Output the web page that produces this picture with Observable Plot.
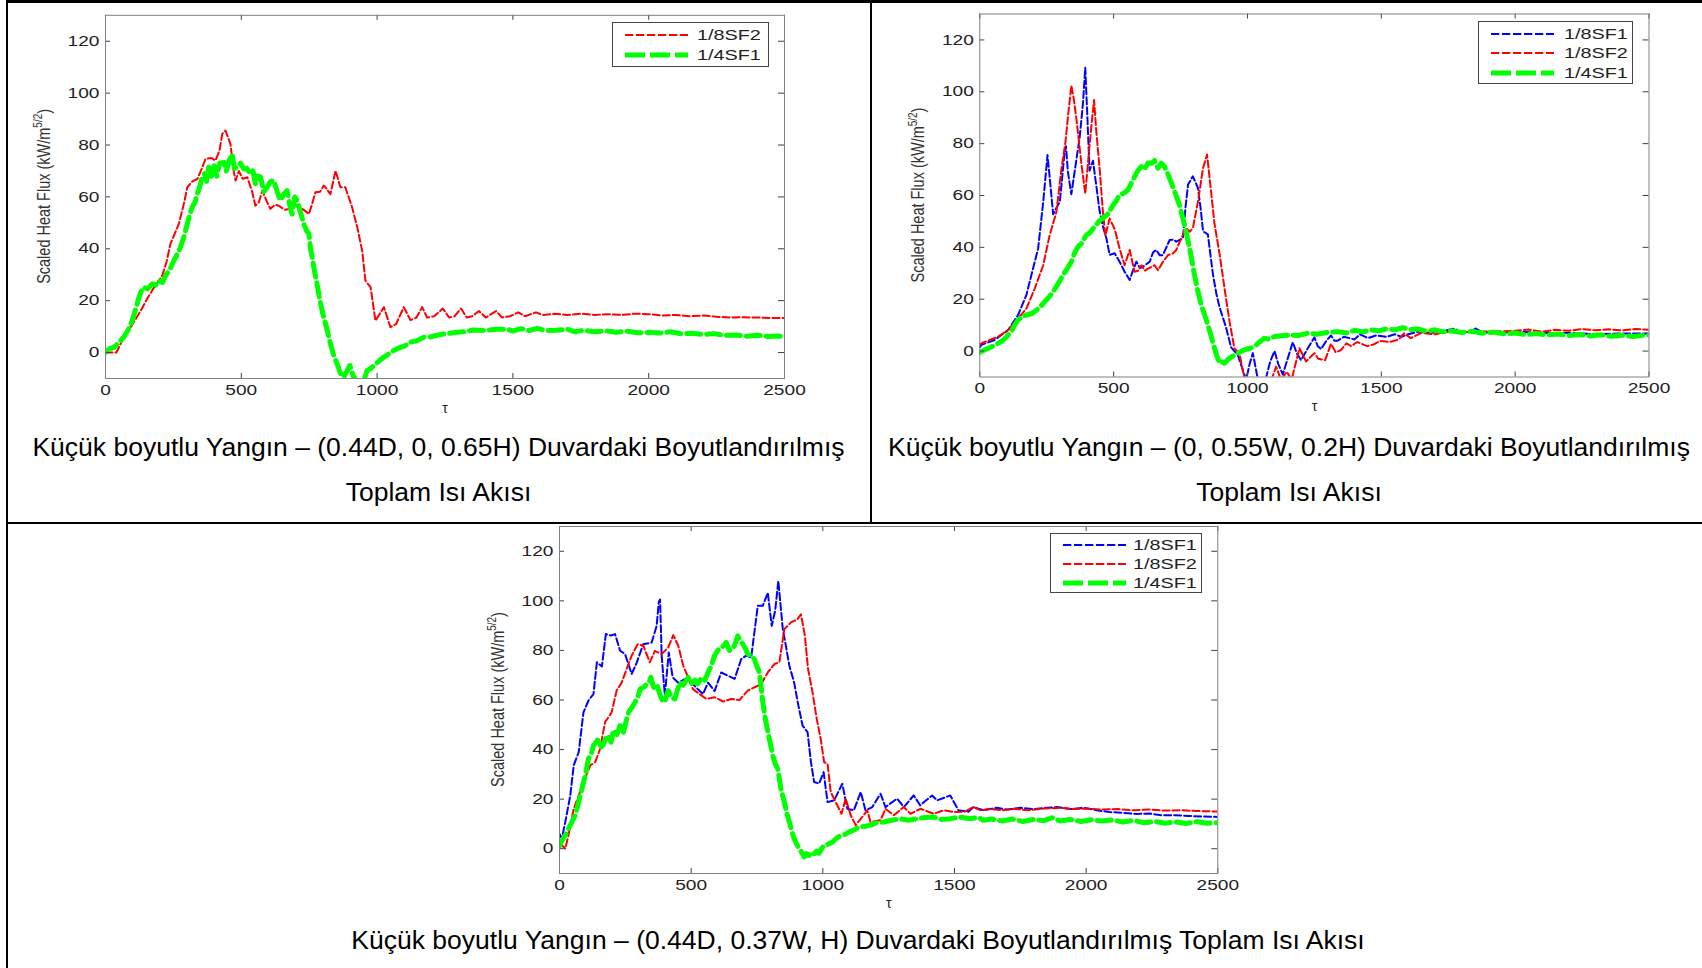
<!DOCTYPE html>
<html>
<head>
<meta charset="utf-8">
<script src="https://cdn.jsdelivr.net/npm/d3@7"></script>
<script src="https://cdn.jsdelivr.net/npm/@observablehq/plot@0.6"></script>
<style>
  html, body { margin: 0; padding: 0; background: #fff; }
  body { width: 1702px; height: 968px; overflow: hidden; position: relative;
         font-family: "Liberation Sans", Arial, Helvetica, sans-serif; }
  .rule { position: absolute; background: #000; }
  .caption { position: absolute; font-size: 26.5px; line-height: 45px; color: #000;
             white-space: nowrap; text-align: center; }
  .legend { position: absolute; box-sizing: border-box; border: 1px solid #444; background: #fff; }
  .legend span { position: absolute; font-size: 15px; line-height: 18px; color: #222;
                 transform: scaleX(1.32); transform-origin: left center; white-space: nowrap; }
  .legend svg { position: absolute; overflow: visible; }
</style>
</head>
<body>
<script>
// ---------- shared axis values ----------
const xTicks = [0, 500, 1000, 1500, 2000, 2500];
const yTicks = [0, 20, 40, 60, 80, 100, 120];

// ---------- series names (legend order) ----------
const seriesNames = ["1/8SF1", "1/8SF2", "1/4SF1"];

// ---------- panel 1: (0.44D, 0, 0.65H) ----------
const p1SF2 = [[0,0],[40,0],[67,5.9],[100,11],[129,16],[155,21],[178,25],[209,29.7],[225,35],[239,41.9],[270,49.6],[290,58],[301,63.7],[320,66],[338,66.9],[355,71],[368,74.6],[390,75],[405,74],[420,78],[430,84.3],[442,85.6],[460,80.4],[472,70],[479,66.3],[491,70],[505,67],[522,67.6],[540,62],[552,56.6],[565,58],[577,62.4],[595,58],[607,55.4],[625,57],[638,56.6],[660,55],[681,55.4],[700,57],[712,56],[730,55],[749,53.4],[760,57],[773,61.8],[790,62],[804,64.4],[815,63],[828,61],[847,70.1],[865,63.7],[883,63.7],[895,60],[908,56],[927,48.3],[945,39.3],[957,27.7],[976,25.2],[994,12.3],[1025,17.5],[1049,9.8],[1070,11],[1098,17.5],[1123,12.5],[1145,13.5],[1166,17.5],[1184,13.5],[1210,14],[1242,17],[1265,13.5],[1285,14],[1309,17],[1330,13.5],[1350,14],[1375,16],[1400,13.5],[1438,16],[1460,13.5],[1490,14],[1520,15.5],[1545,14],[1585,15.5],[1610,14.5],[1657,15],[1700,14.5],[1750,15],[1800,14.5],[1850,14.8],[1900,14.5],[1950,15],[2000,14.8],[2050,14.3],[2100,14.5],[2150,14],[2200,14.3],[2250,13.8],[2300,13.5],[2350,13.6],[2400,13.5],[2450,13.3],[2500,13.3]];
const p1SF1 = [[0,0],[15,1.5],[31,2],[50,4],[67,5.9],[85,9],[98,12.3],[112,17],[123,21.3],[135,24.5],[141,25.2],[155,24.5],[172,26.5],[185,26],[196,27.7],[210,27],[221,29.7],[237,32],[252,35.5],[265,38],[276,40.6],[290,45],[301,49.6],[310,53],[319,56],[330,58],[338,61.1],[347,64],[356,67.6],[365,69],[372,66],[380,71.4],[390,68],[400,72],[410,68],[420,73],[436,73.3],[445,70],[455,74],[466,76.5],[475,71],[485,71.4],[497,73],[509,70.8],[520,71],[534,68.8],[543,70],[552,65],[561,68],[571,67.6],[583,62],[595,63.7],[608,66],[620,66.3],[632,62],[644,58.6],[656,61],[669,62.4],[678,57],[687,53.4],[697,60],[706,58.6],[718,54],[730,49.6],[740,47],[749,45.8],[755,40],[761,36.7],[770,31],[779,26.5],[786,22],[792,18.8],[800,15],[810,11.1],[820,7],[828,3.4],[840,-1],[853,-4.4],[865,-8],[877,-9.5],[890,-7],[900,-5],[912,-9],[925,-11],[951,-11],[963,-7],[978,-6],[994,-4.4],[1010,-3],[1025,-1.8],[1037,-1],[1049,0.1],[1065,1],[1086,2],[1100,2.5],[1123,4],[1145,4.5],[1172,5.9],[1195,6],[1233,7],[1260,7.3],[1295,7.8],[1320,8],[1356,8.7],[1400,8.5],[1440,9],[1479,9],[1500,8.3],[1530,9.2],[1560,8.5],[1590,9.3],[1620,8.5],[1660,8.6],[1700,9],[1730,8],[1760,8.6],[1800,8],[1840,8.4],[1880,7.8],[1920,8.2],[1960,7.6],[2000,7.8],[2040,7.5],[2080,8],[2120,7.2],[2160,7.4],[2200,7],[2240,7.3],[2280,6.6],[2320,6.8],[2360,6.3],[2400,6.7],[2440,6.2],[2480,6.4],[2500,5.9]];

// ---------- panel 2: (0, 0.55W, 0.2H) ----------
const p2SF1a = [[0,1.5],[6,2.4],[56,4.3],[106,8.1],[143,13.9],[174,21.6],[199,31.9],[218,39.6],[237,57.6],[253,75.6],[262,66],[274,52.8],[285,55],[299,57.6],[317,76.9],[322,79],[329,69.2],[342,60.5],[354,69],[373,82.3],[385,95],[394,109.3],[402,90],[410,69.6],[423,73.4],[431,67],[448,53.8],[460,48],[473,43.5],[485,37.1],[504,37.7],[522,34.5],[541,30.6],[560,27.4],[572,31],[585,34.5],[598,32],[610,32.6],[635,34.5],[647,38],[659,39],[672,37],[684,37],[697,40],[709,42.8],[722,43],[734,42.2],[759,43.5],[768,55],[778,64.2],[796,67.4],[815,62.9],[825,55],[834,46.2],[852,45],[871,29.6],[884,22],[896,16.8],[920,9.1],[939,1.4],[964,-1.5],[983,-7.5],[995,-11],[1008,-5],[1020,-0.8],[1039,-11],[1055,-12],[1070,-10],[1085,-4],[1101,0],[1115,-5],[1132,-9],[1150,-3],[1169,3.4],[1185,-1],[1200,-3.5],[1225,1],[1250,5.3],[1262,2],[1275,0.8],[1295,4],[1312,6],[1325,4],[1337,4],[1360,5.5],[1400,4.5],[1420,6.5],[1450,5],[1480,6],[1520,5.5],[1550,6.5],[1575,5.5],[1600,6.5],[1640,7.5],[1680,7],[1720,7.5],[1773,8.7],[1800,7],[1830,7.5],[1853,8.7],[1880,7],[1920,7.5],[1960,7.2],[2000,7.5],[2100,7],[2200,7],[2300,6.5],[2400,6.8],[2500,6.8]];
const p2SF2 = [[0,2.5],[6,3],[69,5.6],[106,8.1],[143,12.6],[174,16.4],[205,24.1],[237,33.1],[261,44.7],[286,53.5],[305,70.3],[320,80.6],[331,92],[342,102.4],[350,98],[361,89.5],[379,72.8],[394,60.7],[410,79.3],[420,90],[427,96.8],[435,85],[448,70],[460,53.5],[469,44.5],[485,51.1],[504,47],[522,39.6],[541,33.1],[560,39],[578,30.6],[591,31],[604,33.1],[616,31],[629,31.8],[653,33.1],[666,31.2],[684,34.4],[703,37],[722,37.7],[734,39],[747,42.2],[771,47.4],[784,46],[796,47.4],[815,57.6],[834,70.6],[849,75.8],[865,60.5],[877,48.9],[896,37.3],[914,24.4],[933,11.4],[951,1.1],[970,-1],[989,-11],[1050,-12],[1090,-11],[1107,-6],[1125,-11],[1147,-8],[1165,-11],[1194,1.1],[1219,-4],[1250,-0.8],[1265,-3],[1290,-3.5],[1312,2.8],[1330,-0.5],[1350,0.5],[1370,3],[1387,1.9],[1410,3.5],[1447,1.9],[1470,2.5],[1496,3.9],[1530,3.5],[1566,4.5],[1585,6.9],[1610,5],[1650,7],[1700,6.5],[1750,7.5],[1800,7],[1850,7.8],[1900,7.5],[2000,7.8],[2050,8.3],[2100,7.5],[2150,8.2],[2200,7.8],[2250,8.5],[2300,8],[2350,8.4],[2400,8],[2450,8.5],[2500,8.2]];
const p2SF1b = [[0,-0.5],[20,0.5],[44,1.7],[60,2.5],[81,3.7],[100,5.5],[118,7.5],[130,10],[143,12],[160,13.5],[174,13.9],[195,14.5],[212,15.8],[230,17.5],[243,19.1],[260,21],[274,22.9],[290,25.5],[311,29.4],[325,31.5],[342,34.5],[355,38],[367,40.3],[380,41.5],[398,44.8],[410,45.5],[429,48],[445,50],[466,51.8],[480,53],[498,56.3],[510,58],[522,60.2],[540,61],[553,62.1],[565,64.5],[578,67.2],[590,69.5],[603,71.1],[615,70],[628,72.5],[641,72.4],[653,73.5],[666,70.5],[678,72.5],[690,71.1],[700,69],[709,66.6],[728,61.5],[746,56.3],[765,48.6],[784,39.6],[802,29.4],[815,23],[827,17.8],[840,14],[852,10.1],[865,5.5],[877,1.1],[886,-2],[896,-4.7],[905,-4.2],[914,-4.7],[930,-3],[951,-1.5],[970,-0.5],[989,0.5],[1007,1],[1026,1.7],[1045,3.5],[1063,4.9],[1080,4.6],[1101,5.6],[1130,5.9],[1163,6.2],[1190,6],[1225,6.9],[1260,6.5],[1300,7.2],[1337,7.5],[1370,7],[1400,8],[1430,7.4],[1461,8.2],[1490,7.8],[1520,8.6],[1550,8.2],[1580,9],[1610,8.3],[1640,8.5],[1670,7.6],[1700,8.2],[1730,7.4],[1760,7.8],[1800,7.2],[1840,7.6],[1880,6.9],[1920,7.3],[1960,6.6],[2000,7],[2040,6.3],[2080,6.8],[2120,6.2],[2160,6.6],[2200,6],[2240,6.4],[2280,5.8],[2320,6.3],[2360,5.7],[2400,6.1],[2440,5.6],[2480,6.1],[2500,6.2]];

// ---------- panel 3: (0.44D, 0.37W, H) ----------
const p3SF1a = [[0,6],[9,4.1],[22,10.8],[41,21.5],[54,33.6],[73,39],[91,55],[110,59.8],[129,62.4],[142,75.2],[161,73.5],[176,86.6],[195,86],[211,86.6],[230,79.9],[249,78.5],[274,70.5],[293,75],[318,82.5],[350,83.2],[369,89.9],[377,99.6],[382,100.5],[388,77.9],[400,61.8],[415,79.2],[430,69.1],[451,67],[476,68.4],[501,67],[526,64.3],[545,62.4],[564,67],[589,63.6],[614,71.1],[640,69.8],[665,68.5],[690,76.5],[709,77.9],[728,77.2],[753,98],[772,98],[791,103.3],[806,89.9],[819,96],[831,108],[848,88.6],[860,81.7],[873,73.8],[891,67.1],[904,59.5],[923,49.7],[942,47],[955,34.9],[967,26.9],[986,26.3],[1003,30.9],[1018,18.8],[1043,19.5],[1074,26.2],[1093,16.1],[1118,15.5],[1144,22.9],[1162,15.5],[1188,16.8],[1219,22.2],[1238,16.8],[1282,20.2],[1308,16.8],[1345,21.5],[1370,17.5],[1415,21.5],[1434,19.5],[1484,21.5],[1515,15.5],[1553,14.9],[1572,16.8],[1610,15.5],[1660,16.5],[1700,15.8],[1750,16.5],[1800,16],[1850,16.5],[1890,16.8],[1940,16],[1990,16.5],[2040,15.5],[2088,14.8],[2140,14.5],[2190,14],[2240,14.2],[2286,13.5],[2340,13.5],[2390,13.2],[2440,13],[2500,12.8]];
const p3SF2 = [[0,1.5],[9,1.4],[22,0],[34,5.4],[54,16.1],[73,21.5],[91,26.9],[117,33.6],[136,35],[154,40.3],[173,51],[198,55],[217,63.8],[236,67],[255,72.5],[274,77.9],[297,82.5],[318,82],[343,75.2],[362,79.8],[388,78.5],[413,81.2],[432,86.2],[451,81.9],[470,73.8],[489,69.1],[507,64.4],[532,62.4],[558,60.4],[589,61.1],[621,59.4],[652,60.4],[684,60],[715,63.8],[740,65.1],[765,66.3],[791,71.1],[816,74.5],[835,75.2],[854,88.6],[879,91.3],[904,92.6],[917,94.6],[932,85.9],[944,72.5],[961,63.1],[977,52.3],[992,44.3],[1005,34.9],[1018,34.3],[1030,22.9],[1049,18.8],[1071,14.1],[1087,20.2],[1106,13.5],[1125,9.5],[1150,12.8],[1169,15.5],[1181,10.8],[1219,11.5],[1238,16.1],[1270,13.5],[1307,16.8],[1333,14.1],[1371,16.1],[1421,14.1],[1459,15.5],[1497,14.8],[1540,15],[1572,16.8],[1600,15.5],[1635,16.1],[1680,15.5],[1723,16.1],[1780,15.5],[1840,16.2],[1900,16.5],[1950,16],[2000,16.2],[2060,15.8],[2120,16],[2180,15.5],[2240,15.8],[2300,15.4],[2360,15.5],[2420,15.2],[2500,15]];
const p3SF1b = [[0,1],[3,2],[22,5.4],[41,9.5],[60,13.5],[79,21.5],[98,29.6],[110,36.3],[120,38],[129,41.6],[148,44.3],[158,41],[167,42.2],[178,45],[186,45.7],[196,43],[205,47.8],[218,46],[230,49.7],[243,47],[252,51],[262,55],[275,57],[287,59.1],[297,61],[306,64.4],[318,65],[331,66.3],[340,67],[347,69.1],[355,66],[362,64.4],[372,65.5],[381,62.4],[390,60],[400,59.1],[407,62],[413,63.8],[425,61],[438,60.4],[445,63],[457,67.1],[470,66],[489,69.1],[500,66.5],[514,68],[525,66.5],[539,69.1],[552,68],[564,71.1],[577,74],[589,77.9],[601,80],[614,81.2],[625,82],[633,83.2],[645,80],[658,80.6],[668,83],[677,85.9],[686,84],[696,82.6],[705,81],[715,78.5],[727,78],[740,76.5],[750,73.5],[759,71.1],[765,66],[772,59.1],[778,55],[784,51],[797,44.3],[810,37.6],[820,34],[829,32.2],[841,24.2],[854,18.8],[864,14],[873,10.8],[882,7],[891,4.1],[900,2],[910,0],[920,-1.5],[929,-3.3],[938,-2],[948,-2.7],[957,-1.5],[967,-2],[976,-1],[986,-1.8],[995,0],[1005,1.4],[1020,1.8],[1037,2.7],[1050,4],[1068,5.4],[1085,5.8],[1100,6.8],[1118,7.5],[1137,8.8],[1160,9],[1181,9.5],[1205,10.5],[1232,10.8],[1260,11.5],[1295,12.1],[1325,11.5],[1358,12.1],[1390,12.6],[1421,12.8],[1450,11.8],[1484,12.1],[1520,12.8],[1560,12.1],[1590,12.6],[1610,11.5],[1640,12],[1680,11.2],[1720,12],[1760,11],[1800,11.8],[1840,11.3],[1870,12.5],[1900,11.2],[1940,11.8],[1980,11],[2020,11.7],[2060,11.2],[2100,11.6],[2140,10.8],[2180,11.4],[2220,10.5],[2260,11],[2300,10.3],[2340,10.8],[2380,10.2],[2420,10.9],[2460,10.3],[2500,10.5]];

// ---------- captions ----------
const caption1 = ["Küçük boyutlu Yangın – (0.44D, 0, 0.65H) Duvardaki Boyutlandırılmış", "Toplam Isı Akısı"];
const caption2 = ["Küçük boyutlu Yangın – (0, 0.55W, 0.2H) Duvardaki Boyutlandırılmış", "Toplam Isı Akısı"];
const caption3 = ["Küçük boyutlu Yangın – (0.44D, 0.37W, H) Duvardaki Boyutlandırılmış Toplam Isı Akısı"];

// ---------- line styles per series (by legend name) ----------
const styles = {
  "1/8SF1": {color: "#0000ff", width: 2, dash: "7,3", key: "8.3,2.7"},
  "1/8SF2": {color: "#ff0000", width: 2, dash: "7,3", key: "8.3,2.7"},
  "1/4SF1": {color: "#00ff00", width: 5, dash: "14,6", key: "20,5"}
};

const TEXT_STRETCH = 1.32;
const FONT = "'Liberation Sans', Arial, Helvetica, sans-serif";
const plain = (d) => String(d);

function rows(pairs) { return pairs.map(([t, v]) => ({t, v})); }

// widen Plot-drawn horizontal text about its own anchor (x only; y offsets untouched)
function stretch(svg, selector, k) {
  svg.querySelectorAll(selector).forEach((t) => {
    const tr = t.getAttribute("transform") || "";
    const xa = t.getAttribute("x");
    const X = xa !== null && /^-?[\d.]+$/.test(xa.trim()) ? +xa : 0;
    t.setAttribute("transform", `${tr} translate(${X},0) scale(${k},1) translate(${-X},0)`);
  });
}

function panel(cfg) {
  const {left, top, width, height, mt, mr, mb, ml, series} = cfg;
  const pw = width - ml - mr, ph = height - mt - mb;   // frame size in px
  const tick = {stroke: "#404040", strokeWidth: 1};
  const svg = Plot.plot({
    width, height,
    marginTop: mt, marginRight: mr, marginBottom: mb, marginLeft: ml,
    style: {fontFamily: FONT, fontSize: "14px", color: "#222", background: "transparent", overflow: "visible"},
    x: {domain: [0, 2500], label: null},
    y: {domain: [-10, 130], label: null},
    marks: [
      ...series.map(([name, data]) => Plot.line(rows(data), {
        x: "t", y: "v", stroke: styles[name].color, strokeWidth: styles[name].width,
        strokeDasharray: styles[name].dash, strokeLinejoin: "round", clip: true
      })),
      // inward ticks on all four sides (short rules inset from the opposite edge)
      Plot.ruleX(xTicks, {...tick, insetTop: ph - 5}),
      Plot.ruleX(xTicks, {...tick, insetBottom: ph - 5}),
      Plot.ruleY(yTicks, {...tick, insetRight: pw - 5}),
      Plot.ruleY(yTicks, {...tick, insetLeft: pw - 6}),
      Plot.frame({stroke: "#808080", strokeWidth: 1}),
      // tick labels
      Plot.axisX(xTicks, {tickSize: 0, tickPadding: 6, tickFormat: plain, fontSize: 14.5, label: null}),
      Plot.axisY(yTicks, {tickSize: 0, tickPadding: 6, tickFormat: plain, fontSize: 14.5, label: null}),
      // x axis title
      Plot.text(["τ"], {text: (d) => d, frameAnchor: "bottom", dy: 34, fontSize: 14, fill: "#222"})
    ]
  });
  stretch(svg, 'g[aria-label="x-axis tick label"] text, g[aria-label="y-axis tick label"] text', TEXT_STRETCH);

  // y axis title with superscript exponent
  const cy = mt + ph / 2;
  const lab = d3.select(svg).append("text")
    .attr("transform", `translate(${ml - 55},${cy}) rotate(-90) scale(1,1.28)`)
    .attr("text-anchor", "middle").attr("fill", "#333")
    .style("font-family", FONT).style("font-size", "14.5px");
  lab.append("tspan").text("Scaled Heat Flux (kW/m");
  lab.append("tspan").attr("dy", -6).style("font-size", "10px").text("5/2");
  lab.append("tspan").attr("dy", 6).text(")");

  svg.style.position = "absolute";
  svg.style.left = left + "px";
  svg.style.top = top + "px";
  document.body.appendChild(svg);
}

function legend(cfg) {
  const box = document.createElement("div");
  box.className = "legend";
  Object.assign(box.style, {left: cfg.left + "px", top: cfg.top + "px", width: cfg.width + "px", height: cfg.height + "px"});
  const ns = "http://www.w3.org/2000/svg";
  cfg.names.forEach((name, r) => {
    const y = cfg.rows[r];
    const s = styles[name];
    const sv = document.createElementNS(ns, "svg");
    sv.setAttribute("width", 63); sv.setAttribute("height", 8);
    sv.style.left = cfg.sample + "px"; sv.style.top = (y - 4) + "px";
    const ln = document.createElementNS(ns, "line");
    ln.setAttribute("x1", 0); ln.setAttribute("x2", 63); ln.setAttribute("y1", 4); ln.setAttribute("y2", 4);
    ln.setAttribute("stroke", s.color); ln.setAttribute("stroke-width", s.width);
    ln.setAttribute("stroke-dasharray", s.key);
    sv.appendChild(ln);
    box.appendChild(sv);
    const sp = document.createElement("span");
    sp.textContent = name;
    sp.style.left = cfg.text + "px"; sp.style.top = (y - 9) + "px";
    box.appendChild(sp);
  });
  document.body.appendChild(box);
}

function caption(lines, left, width, top) {
  const d = document.createElement("div");
  d.className = "caption";
  Object.assign(d.style, {left: left + "px", width: width + "px", top: top + "px"});
  lines.forEach((l, i) => {
    if (i) d.appendChild(document.createElement("br"));
    d.appendChild(document.createTextNode(l));
  });
  document.body.appendChild(d);
}

function rule(left, top, width, height) {
  const d = document.createElement("div");
  d.className = "rule";
  Object.assign(d.style, {left: left + "px", top: top + "px", width: width + "px", height: height + "px"});
  document.body.appendChild(d);
}

// ---------- charts ----------
panel({left: 0, top: 0, width: 870, height: 430, mt: 14.8, mr: 86, mb: 52, ml: 105,
       series: [["1/8SF2", p1SF2], ["1/4SF1", p1SF1]]});
panel({left: 870, top: 0, width: 832, height: 430, mt: 13.5, mr: 53.5, mb: 53.5, ml: 109.3,
       series: [["1/8SF1", p2SF1a], ["1/8SF2", p2SF2], ["1/4SF1", p2SF1b]]});
panel({left: 400, top: 522, width: 850, height: 410, mt: 4, mr: 32.7, mb: 59, ml: 159,
       series: [["1/8SF1", p3SF1a], ["1/8SF2", p3SF2], ["1/4SF1", p3SF1b]]});

// ---------- legends ----------
legend({left: 611.7, top: 22.3, width: 157.3, height: 45, names: ["1/8SF2", "1/4SF1"], rows: [11.4, 31.4], sample: 12.3, text: 84.3});
legend({left: 1478.3, top: 20.7, width: 155, height: 63.6, names: seriesNames, rows: [12, 31.6, 51], sample: 11.7, text: 84.4});
legend({left: 1050, top: 532.7, width: 152.3, height: 60.6, names: seriesNames, rows: [11.3, 30.6, 49], sample: 11.7, text: 82.3});

// ---------- captions ----------
caption(caption1, 7, 863, 425.2);
caption(caption2, 872, 834, 425.2);
caption(caption3, 8, 1700, 917.8);

// ---------- table borders ----------
rule(6, 0, 1696, 3);
rule(6, 0, 2, 968);
rule(870, 0, 2, 524);
rule(6, 522, 1696, 2);
</script>
</body>
</html>
